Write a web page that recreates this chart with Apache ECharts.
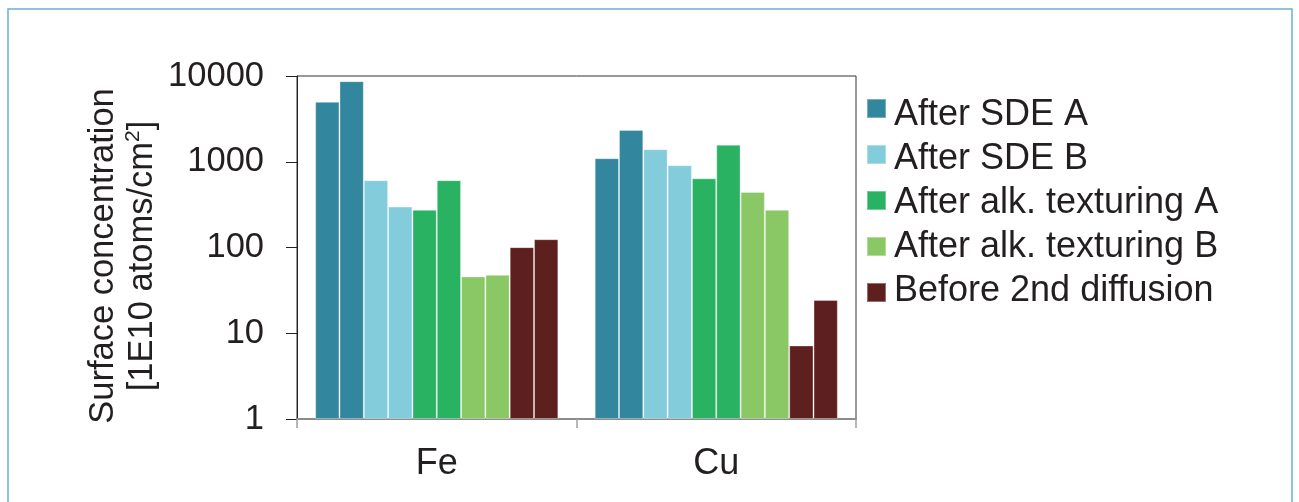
<!DOCTYPE html>
<html>
<head>
<meta charset="utf-8">
<script src="https://cdn.jsdelivr.net/npm/echarts@6/dist/echarts.min.js"></script>
<style>html,body{margin:0;padding:0;background:#fff;}#c{width:1299px;height:502px;}</style>
</head>
<body>
<div id="c"></div>
<script>
var categories = ['Fe', 'Cu'];
var seriesNames = ['After SDE A', 'After SDE B', 'After alk. texturing A', 'After alk. texturing B', 'Before 2nd diffusion'];
var colors = ['#32869d', '#82ccdc', '#29b262', '#8ac865', '#5e1f1f'];
// two samples per step, values for [Fe, Cu]
var sdeA1 = [5000, 1100];
var sdeA2 = [8700, 2350];
var sdeB1 = [610, 1400];
var sdeB2 = [300, 910];
var alkA1 = [275, 640];
var alkA2 = [610, 1580];
var alkB1 = [46, 445];
var alkB2 = [48, 275];
var before1 = [101, 7.2];
var before2 = [125, 24.5];
var yTicks = [1, 10, 100, 1000, 10000];

var groups = [[sdeA1, sdeA2], [sdeB1, sdeB2], [alkA1, alkA2], [alkB1, alkB2], [before1, before2]];
var FONT = "'Liberation Sans', Arial, sans-serif";
var series = [];
groups.forEach(function (g, i) {
  g.forEach(function (arr) {
    series.push({
      name: seriesNames[i],
      type: 'bar',
      data: arr,
      barGap: '0%',
      barCategoryGap: '13%',
      itemStyle: { color: colors[i], borderColor: 'rgba(255,255,255,0.35)', borderWidth: 1 }
    });
  });
});

// legend swatch: 19px square placed inside a 19x40 icon box (square offset drifts slightly per row, as in the source)
var swatchTops = [4, 6, 8, 10, 12];
var legendData = seriesNames.map(function (n, i) {
  var t = swatchTops[i];
  return { name: n, icon: 'path://M0,0M0,40M0,' + t + 'H19V' + (t + 19) + 'H0Z' };
});

var chart = echarts.init(document.getElementById('c'));
chart.setOption({
  animation: false,
  backgroundColor: '#fff',
  graphic: [{
    type: 'rect', silent: true,
    shape: { x: 8, y: 9, width: 1284, height: 520 },
    style: { fill: 'none', stroke: '#6aaed8', lineWidth: 1.5 }
  }],
  grid: { left: 297, right: 443, top: 76, bottom: 83, show: true, borderColor: '#333', borderWidth: 1, backgroundColor: 'transparent' },
  legend: {
    orient: 'vertical', left: 866, top: 94, padding: 0,
    itemWidth: 19, itemHeight: 40, itemGap: 2,
    data: legendData,
    textStyle: { fontFamily: FONT, fontSize: 36, color: '#231f20', padding: [0, 0, 0, 3], lineHeight: 35 }
  },
  xAxis: {
    type: 'category', data: categories,
    axisLine: { lineStyle: { color: '#8c8c8c', width: 2 } },
    axisTick: { show: true, length: 9, lineStyle: { color: '#a0a0a0', width: 1.5 } },
    axisLabel: { fontFamily: FONT, fontSize: 36, color: '#231f20', margin: 27 }
  },
  yAxis: {
    type: 'log', logBase: 10, min: yTicks[0], max: yTicks[yTicks.length - 1],
    name: 'Surface concentration\n[1E10 atoms/cm{sup|2}]',
    nameLocation: 'middle', nameGap: 135,
    nameTextStyle: {
      fontFamily: FONT, fontSize: 34.5, color: '#231f20', lineHeight: 39, align: 'center',
      padding: [0, 17, 0, 0],
      rich: { sup: { fontFamily: FONT, fontSize: 21, lineHeight: 26, verticalAlign: 'top', color: '#231f20' } }
    },
    axisLine: { show: true, lineStyle: { color: '#222', width: 1 } },
    axisTick: { show: true, length: 11, lineStyle: { color: '#222', width: 1 } },
    axisLabel: {
      fontFamily: FONT, fontSize: 34.5, color: '#231f20', margin: 33,
      formatter: function (v) { return String(Math.round(v)); }
    },
    splitLine: { show: false },
    minorTick: { show: false }
  },
  series: series
});
</script>
</body>
</html>
